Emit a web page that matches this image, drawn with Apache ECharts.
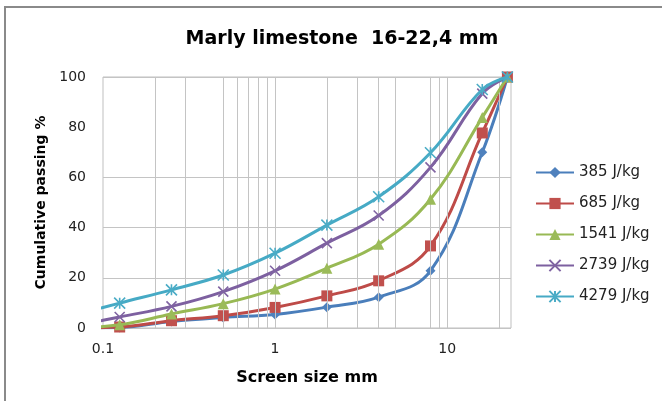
<!DOCTYPE html>
<html>
<head>
<meta charset="utf-8">
<script src="https://cdn.jsdelivr.net/npm/echarts@6/dist/echarts.min.js"></script>
<style>html,body{margin:0;padding:0;background:#fff}#c{width:662px;height:401px}</style>
</head>
<body>
<div id="c"></div>
<script>
// Screen sizes (mm); the first sieve lies left of the axis minimum and is clipped
var screenSizes = [0.063, 0.125, 0.25, 0.5, 1, 2, 4, 8, 16, 22.4];
var seriesNames = ['385 J/kg', '685 J/kg', '1541 J/kg', '2739 J/kg', '4279 J/kg'];
var pass385  = [0,   0.2, 2.6, 4.2, 5.4, 8.3, 12.3, 22.8, 70.0, 100];
var pass685  = [0,   0.4, 2.9, 4.9, 8.2, 12.8, 18.8, 32.7, 77.7, 100];
var pass1541 = [0,   1.3, 5.6, 9.7, 15.5, 23.8, 33.4, 51.3, 83.9, 100];
var pass2739 = [0.3, 4.4, 8.6, 14.5, 22.8, 33.8, 44.8, 64.0, 93.4, 100];
var pass4279 = [4.5, 9.9, 15.2, 21.1, 29.8, 41.0, 52.3, 69.8, 95.0, 100];
var xGridValues = [0.2, 0.3, 0.5, 0.6, 0.7, 0.8, 0.9, 1, 2, 3, 4, 5, 8, 9, 10, 20];

var allValues = [pass385, pass685, pass1541, pass2739, pass4279];
var lineColors = ['#4a7ebb', '#be4b48', '#98b954', '#7d60a0', '#46aac5'];
var markColors = ['#4f81bd', '#c0504d', '#9bbb59', '#8064a2', '#4bacc6'];
var symbols = ['diamond', 'rect', 'triangle', 'path://M0 0L10 10M10 0L0 10', 'path://M0 0L10 10M10 0L0 10M5 0L5 10'];
var symbolSizes = [10, 11, 11, 10, 11];

function pairs(vals) {
  return screenSizes.map(function (s, i) { return [s, vals[i]]; });
}

var font = '"DejaVu Sans", "Liberation Sans", sans-serif';
var series = seriesNames.map(function (name, k) {
  var stroked = k >= 3;
  return {
    name: name,
    type: 'line',
    data: pairs(allValues[k]),
    smooth: 0.4,
    clip: true,
    symbol: symbols[k],
    symbolSize: symbolSizes[k],
    showAllSymbol: true,
    lineStyle: { color: lineColors[k], width: 3 },
    itemStyle: stroked ? { color: markColors[k], borderColor: markColors[k], borderWidth: 1.6 } : { color: markColors[k] },
    emphasis: { disabled: true },
    z: 3 + k
  };
});
series.push({
  type: 'line', data: [], silent: true, z: 1,
  markLine: {
    silent: true, symbol: 'none', label: { show: false },
    lineStyle: { color: '#c4c4c4', width: 1, type: 'solid' },
    data: xGridValues.map(function (v) { return { xAxis: v }; })
  }
});

var chart = echarts.init(document.getElementById('c'));
chart.setOption({
  animation: false,
  backgroundColor: '#fff',
  title: {
    text: 'Marly limestone  16-22,4 mm',
    left: 337, top: 25, textAlign: 'center',
    textStyle: { fontFamily: font, fontSize: 19, fontWeight: 'bold', color: '#000' }
  },
  graphic: [{
    type: 'rect', shape: { x: 5, y: 7, width: 700, height: 420 },
    style: { fill: 'none', stroke: '#8a8a8a', lineWidth: 2 }, silent: true
  }],
  grid: { left: 103, top: 77, width: 408, height: 251, show: true, borderColor: '#bfbfbf', borderWidth: 1, backgroundColor: 'transparent' },
  legend: {
    orient: 'vertical', left: 530, top: 160,
    itemWidth: 38, itemHeight: 14, itemGap: 16,
    textStyle: { fontFamily: font, fontSize: 15, color: '#222' },
    data: seriesNames
  },
  xAxis: {
    type: 'log', logBase: 10, min: 0.1, max: 23.5,
    name: 'Screen size mm', nameLocation: 'middle', nameGap: 42,
    nameTextStyle: { fontFamily: font, fontSize: 16, fontWeight: 'bold', color: '#000' },
    axisLine: { show: false }, axisTick: { show: false },
    splitLine: { show: false },
    axisLabel: {
      fontFamily: font, fontSize: 14, color: '#222', margin: 14,
      showMaxLabel: false,
      formatter: function (v) {
        var l = Math.log10(v);
        if (Math.abs(l - Math.round(l)) > 1e-6) return '';
        return String(+v.toPrecision(3));
      }
    }
  },
  yAxis: {
    type: 'value', min: 0, max: 100, interval: 20,
    name: 'Cumulative passing %', nameLocation: 'middle', nameGap: 52, nameRotate: 90,
    nameTextStyle: { fontFamily: font, fontSize: 14, fontWeight: 'bold', color: '#000' },
    axisLine: { show: false }, axisTick: { show: false },
    splitLine: { show: true, lineStyle: { color: ['#c4c4c4', '#c4c4c4', '#c4c4c4', '#c4c4c4', 'rgba(0,0,0,0)', '#c4c4c4'], width: 1 } },
    axisLabel: { fontFamily: font, fontSize: 14, color: '#222', margin: 17 }
  },
  series: series
});
</script>
</body>
</html>
